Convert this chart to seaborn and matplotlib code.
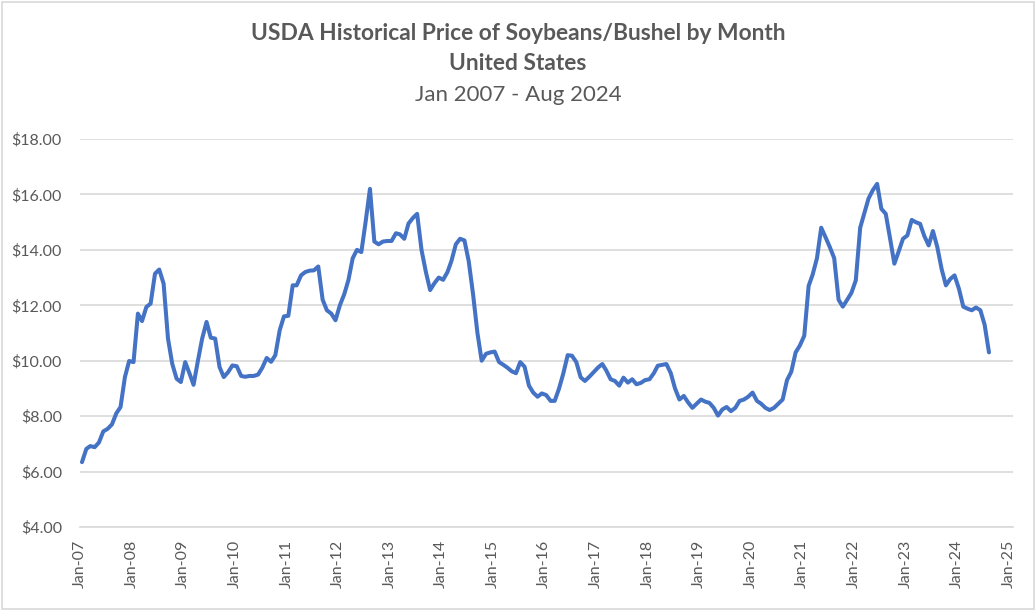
import matplotlib
matplotlib.use("Agg")
import matplotlib.pyplot as plt
import matplotlib.dates as mdates
from matplotlib.patches import Rectangle
import seaborn as sns
import pandas as pd
import numpy as np

# ---- data (USDA price received, $/bushel, monthly Jan 2007 - Aug 2024) ----
prices_2007 = [6.34, 6.82, 6.92, 6.88, 7.05, 7.45, 7.54, 7.70, 8.10, 8.33, 9.41, 9.99]
prices_2008 = [9.95, 11.70, 11.43, 11.94, 12.06, 13.14, 13.29, 12.78, 10.80, 9.89, 9.35, 9.23]
prices_2009 = [9.95, 9.53, 9.13, 10.00, 10.80, 11.40, 10.83, 10.80, 9.77, 9.41, 9.59, 9.83]
prices_2010 = [9.80, 9.45, 9.42, 9.45, 9.45, 9.50, 9.75, 10.10, 9.96, 10.20, 11.10, 11.60]
prices_2011 = [11.62, 12.72, 12.72, 13.08, 13.20, 13.25, 13.26, 13.40, 12.20, 11.82, 11.70, 11.46]
prices_2012 = [12.00, 12.40, 12.90, 13.70, 14.00, 13.92, 15.00, 16.20, 14.30, 14.20, 14.30, 14.32]
prices_2013 = [14.32, 14.60, 14.56, 14.40, 14.95, 15.15, 15.30, 14.00, 13.20, 12.55, 12.80, 13.00]
prices_2014 = [12.92, 13.20, 13.60, 14.20, 14.40, 14.34, 13.60, 12.40, 11.00, 10.00, 10.25, 10.30]
prices_2015 = [10.33, 9.95, 9.86, 9.75, 9.62, 9.55, 9.95, 9.78, 9.10, 8.85, 8.70, 8.82]
prices_2016 = [8.76, 8.55, 8.55, 9.00, 9.54, 10.20, 10.18, 9.95, 9.40, 9.27, 9.42, 9.58]
prices_2017 = [9.75, 9.88, 9.65, 9.33, 9.27, 9.10, 9.39, 9.21, 9.33, 9.15, 9.20, 9.30]
prices_2018 = [9.33, 9.55, 9.82, 9.85, 9.88, 9.55, 9.00, 8.60, 8.73, 8.50, 8.30, 8.45]
prices_2019 = [8.60, 8.52, 8.48, 8.30, 8.02, 8.24, 8.33, 8.18, 8.30, 8.55, 8.60, 8.70]
prices_2020 = [8.85, 8.55, 8.45, 8.30, 8.22, 8.30, 8.45, 8.60, 9.30, 9.60, 10.30, 10.55]
prices_2021 = [10.90, 12.70, 13.10, 13.70, 14.80, 14.45, 14.10, 13.70, 12.20, 11.95, 12.20, 12.45]
prices_2022 = [12.90, 14.80, 15.30, 15.85, 16.15, 16.38, 15.48, 15.30, 14.40, 13.50, 13.95, 14.40]
prices_2023 = [14.52, 15.08, 15.00, 14.94, 14.50, 14.16, 14.68, 14.10, 13.30, 12.72, 12.95, 13.08]
prices_2024 = [12.60, 11.95, 11.88, 11.82, 11.92, 11.82, 11.30, 10.30]

values = (prices_2007 + prices_2008 + prices_2009 + prices_2010 + prices_2011 +
          prices_2012 + prices_2013 + prices_2014 + prices_2015 + prices_2016 +
          prices_2017 + prices_2018 + prices_2019 + prices_2020 + prices_2021 +
          prices_2022 + prices_2023 + prices_2024)

months = pd.date_range("2007-01-01", periods=len(values), freq="MS") + pd.Timedelta(days=14)
df = pd.DataFrame({"month": months, "price": values})

title_line1 = "USDA Historical Price of Soybeans/Bushel by Month"
title_line2 = "United States"
title_line3 = "Jan 2007 - Aug 2024"
y_ticks = [4, 6, 8, 10, 12, 14, 16, 18]

# ---- style ----
sns.set_theme(style="white")
plt.rcParams["font.family"] = ["Lato", "DejaVu Sans"]
TXT = "#595959"
GRID = "#d9d9d9"
LINE = "#4472C4"

W, H = 1036, 611
fig = plt.figure(figsize=(W / 100, H / 100), dpi=100)
ax = fig.add_axes([80 / W, (H - 527) / H, 933 / W, 388 / H])

sns.lineplot(data=df, x="month", y="price", ax=ax, color=LINE, linewidth=2.9,
             solid_joinstyle="round", solid_capstyle="round")

ax.set_ylim(4, 18)
ax.set_yticks(y_ticks)
ax.set_yticklabels([f"${v:.2f}" for v in y_ticks])
ax.set_xlim(pd.Timestamp("2007-01-01"), pd.Timestamp("2025-02-01"))
ax.xaxis.set_major_locator(mdates.YearLocator(1, month=1, day=1))
ax.xaxis.set_major_formatter(mdates.DateFormatter("%b-%y"))

ax.grid(axis="y", color=GRID, linewidth=1.2)
ax.grid(axis="x", visible=False)
ax.set_axisbelow(True)
for s in ["top", "right", "left"]:
    ax.spines[s].set_visible(False)
ax.spines["bottom"].set_color(GRID)
ax.spines["bottom"].set_linewidth(1.2)

ax.tick_params(axis="x", direction="in", length=4, width=1.2, color="#bfbfbf",
               labelsize=11.5, labelcolor=TXT, pad=9, labelrotation=90)
ax.tick_params(axis="y", length=0, labelsize=11.5, labelcolor=TXT, pad=13)
ax.set_xlabel("")
ax.set_ylabel("")

fig.text(518 / W, 1 - 34 / H, title_line1, ha="center", va="center",
         fontsize=16.4, fontweight="bold", color=TXT)
fig.text(518 / W, 1 - 63 / H, title_line2, ha="center", va="center",
         fontsize=16.4, fontweight="bold", color=TXT)
fig.text(518 / W, 1 - 95 / H, title_line3, ha="center", va="center",
         fontsize=16, color=TXT)

fig.patches.append(Rectangle((2 / W, 2 / H), 1 - 4 / W, 1 - 4 / H, transform=fig.transFigure,
                             fill=False, edgecolor=GRID, linewidth=1.2))

fig.savefig("out.png", dpi=100)
